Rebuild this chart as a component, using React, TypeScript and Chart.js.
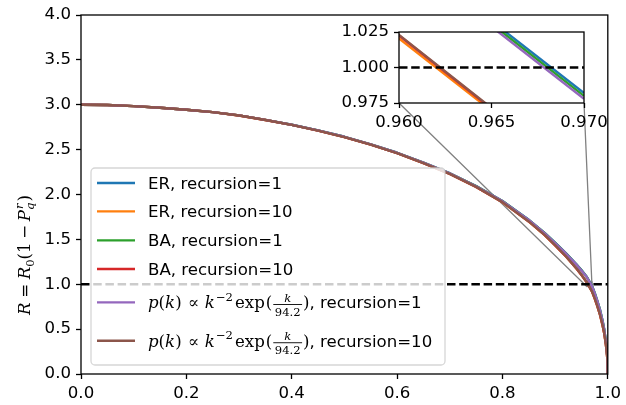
import React, { useEffect, useRef } from "react";
import { Chart, registerables } from "chart.js";

Chart.register(...registerables);

// ---------------- data ----------------
const X = [0, 0.05, 0.1, 0.15, 0.2, 0.25, 0.3, 0.35, 0.4, 0.45, 0.5, 0.55, 0.6, 0.65, 0.7, 0.75, 0.8, 0.85, 0.88, 0.9, 0.92, 0.94, 0.95, 0.96, 0.965, 0.97, 0.975, 0.98, 0.985, 0.99, 0.993, 0.996, 0.998, 0.999, 0.9997, 1.0];

const ER_R1 = [3.000, 2.997, 2.985, 2.967, 2.945, 2.918, 2.881, 2.831, 2.777, 2.714, 2.643, 2.559, 2.465, 2.356, 2.237, 2.094, 1.928, 1.718, 1.573, 1.463, 1.350, 1.225, 1.158, 1.0838, 1.0328, 0.982, 0.906, 0.818, 0.720, 0.595, 0.505, 0.382, 0.274, 0.197, 0.109, 0.000];
const ER_R10 = [3.000, 2.997, 2.985, 2.967, 2.945, 2.918, 2.880, 2.830, 2.775, 2.712, 2.640, 2.555, 2.460, 2.350, 2.229, 2.084, 1.913, 1.698, 1.548, 1.433, 1.313, 1.178, 1.103, 1.0205, 0.9695, 0.918, 0.843, 0.758, 0.663, 0.543, 0.458, 0.343, 0.243, 0.173, 0.094, 0.000];
const BA_R1 = [3.000, 2.997, 2.985, 2.967, 2.945, 2.918, 2.881, 2.831, 2.777, 2.714, 2.643, 2.559, 2.465, 2.356, 2.236, 2.093, 1.927, 1.717, 1.572, 1.461, 1.348, 1.223, 1.156, 1.0818, 1.0308, 0.980, 0.904, 0.816, 0.718, 0.593, 0.503, 0.380, 0.272, 0.195, 0.108, 0.000];
const BA_R10 = [3.000, 2.997, 2.985, 2.967, 2.945, 2.918, 2.880, 2.830, 2.775, 2.712, 2.640, 2.555, 2.460, 2.350, 2.230, 2.085, 1.915, 1.700, 1.550, 1.434, 1.314, 1.179, 1.104, 1.0225, 0.971, 0.9195, 0.844, 0.759, 0.664, 0.544, 0.459, 0.344, 0.244, 0.174, 0.095, 0.000];
const PK_R1 = [3.000, 2.997, 2.985, 2.967, 2.945, 2.918, 2.881, 2.831, 2.777, 2.714, 2.643, 2.559, 2.465, 2.356, 2.236, 2.092, 1.926, 1.716, 1.570, 1.459, 1.346, 1.221, 1.154, 1.0798, 1.0288, 0.978, 0.902, 0.814, 0.716, 0.591, 0.501, 0.378, 0.270, 0.193, 0.107, 0.000];
const PK_R10 = [3.000, 2.997, 2.985, 2.967, 2.945, 2.918, 2.880, 2.830, 2.775, 2.712, 2.640, 2.555, 2.460, 2.350, 2.230, 2.085, 1.915, 1.700, 1.550, 1.435, 1.315, 1.180, 1.105, 1.023, 0.9715, 0.920, 0.845, 0.760, 0.665, 0.545, 0.460, 0.345, 0.245, 0.175, 0.095, 0.000];

const SERIES_NAMES = ["ER, recursion=1", "ER, recursion=10", "BA, recursion=1", "BA, recursion=10", "pk, recursion=1", "pk, recursion=10"];
const SERIES_VALUES = [ER_R1, ER_R10, BA_R1, BA_R10, PK_R1, PK_R10];
const RECURSION = ["1", "10", "1", "10", "1", "10"];

const THRESHOLD = 1.0;
const MAIN_X_TICKS = [0, 0.2, 0.4, 0.6, 0.8, 1.0];
const MAIN_Y_TICKS = [0, 0.5, 1.0, 1.5, 2.0, 2.5, 3.0, 3.5, 4.0];
const INSET_X_TICKS = [0.96, 0.965, 0.97];
const INSET_Y_TICKS = [0.975, 1.0, 1.025];
const MAIN_X_RANGE = [0, 1];
const MAIN_Y_RANGE = [0, 4];
const INSET_X_RANGE = [0.96, 0.97];
const INSET_Y_RANGE = [0.975, 1.025];

// ---------------- styles / layout ----------------
const COLORS = ["#1f77b4", "#ff7f0e", "#2ca02c", "#d62728", "#9467bd", "#8c564b"];
const W = 626, H = 405;
const MAIN_AREA = { left: 81, top: 15, right: 611, bottom: 374 };
const INSET_AREA = { left: 399, top: 32, right: 584, bottom: 103 };
const SANS = '"DejaVu Sans", sans-serif';
const SERIF = '"DejaVu Serif", serif';
const TICK_FONT = { family: SANS, size: 16.6 };
const LW = 2.4;

type Seg = { t?: string; f: string; dy?: number; pad?: number; frac?: [string, string]; f2?: string; sub?: string; sup?: string };

function segWidth(ctx: CanvasRenderingContext2D, s: Seg): number {
  ctx.font = s.f;
  if (s.frac) {
    const a = ctx.measureText(s.frac[0]).width;
    ctx.font = s.f2 || s.f;
    const b = ctx.measureText(s.frac[1]).width;
    return Math.max(a, b) + 5;
  }
  if (s.sub !== undefined) {
    return Math.max(ctx.measureText(s.sub).width, ctx.measureText(s.sup || "").width) + 1;
  }
  return ctx.measureText(s.t || "").width + 2 * (s.pad || 0);
}

function runWidth(ctx: CanvasRenderingContext2D, segs: Seg[]) {
  return segs.reduce((a, s) => a + segWidth(ctx, s), 0);
}

function drawRun(ctx: CanvasRenderingContext2D, segs: Seg[], x: number, y: number) {
  ctx.textAlign = "left";
  ctx.textBaseline = "alphabetic";
  for (const s of segs) {
    const w = segWidth(ctx, s);
    ctx.font = s.f;
    if (s.frac) {
      const nw = ctx.measureText(s.frac[0]).width;
      ctx.fillText(s.frac[0], x + (w - nw) / 2, y - 6.5);
      ctx.font = s.f2 || s.f;
      const dw = ctx.measureText(s.frac[1]).width;
      ctx.fillText(s.frac[1], x + (w - dw) / 2, y + 7.5);
      ctx.fillRect(x + 1, y - 4.4, w - 2, 0.9);
    } else if (s.sub !== undefined) {
      ctx.fillText(s.sub, x, y + 4);
      ctx.fillText(s.sup || "", x + 1, y - 7);
    } else {
      ctx.fillText(s.t || "", x + (s.pad || 0), y + (s.dy || 0));
    }
    x += w;
  }
  return x;
}

const M = 16.6, S = 11.6;
const it = (n: number) => `italic ${n}px ${SERIF}`;
const rm = (n: number) => `${n}px ${SERIF}`;

function pkSegs(rec: string): Seg[] {
  return [
    { t: "p", f: it(M) }, { t: "(", f: rm(M) }, { t: "k", f: it(M) }, { t: ")", f: rm(M) },
    { t: "\u221d", f: rm(M), pad: 6 },
    { t: "k", f: it(M) }, { t: "\u22122", f: rm(S), dy: -7.5, pad: 1 },
    { t: "exp", f: rm(M), pad: 1 }, { t: "(", f: rm(M) },
    { frac: ["k", "94.2"], f: it(S), f2: rm(S) },
    { t: ")", f: rm(M) },
    { t: ", recursion=" + rec, f: `16.6px ${SANS}` },
  ];
}

const YL = 16.6, YS = 11.6;
const Y_LABEL: Seg[] = [
  { t: "R", f: it(YL) }, { t: "=", f: rm(YL), pad: 4.6 }, { t: "R", f: it(YL) },
  { t: "0", f: rm(YS), dy: 4 }, { t: "(1", f: rm(YL) }, { t: "\u2212", f: rm(YL), pad: 3.7 },
  { t: "P", f: it(YL) }, { sub: "q", sup: "r", f: it(YS) }, { t: ")", f: rm(YL) },
];
const Y_LABEL_POS = { x: 30, y: 255 };

function frame(chart: any) {
  const { ctx, chartArea: a } = chart;
  ctx.save();
  ctx.strokeStyle = "#000";
  ctx.lineWidth = 1.3;
  ctx.strokeRect(a.left, a.top, a.right - a.left, a.bottom - a.top);
  ctx.restore();
}

const mainDecor = {
  id: "mainDecor",
  beforeDatasetsDraw(chart: any) {
    const { ctx, scales } = chart;
    const x0 = scales.x.getPixelForValue(INSET_X_RANGE[0]);
    const x1 = scales.x.getPixelForValue(INSET_X_RANGE[1]);
    const y0 = scales.y.getPixelForValue(INSET_Y_RANGE[0]);
    const y1 = scales.y.getPixelForValue(INSET_Y_RANGE[1]);
    ctx.save();
    ctx.strokeStyle = "#808080";
    ctx.lineWidth = 1.3;
    ctx.strokeRect(x0, y1, x1 - x0, y0 - y1);
    ctx.beginPath();
    ctx.moveTo(INSET_AREA.left, INSET_AREA.bottom);
    ctx.lineTo(x0, y0);
    ctx.moveTo(INSET_AREA.right, INSET_AREA.bottom);
    ctx.lineTo(x1, y0);
    ctx.stroke();
    ctx.restore();
  },
  afterDatasetsDraw(chart: any) {
    frame(chart);
  },
  afterDraw(chart: any) {
    const { ctx, chartArea: a } = chart;
    // legend
    const L = a.left + 10, B = a.bottom - 9, LWID = 354, LH = 197, T = B - LH;
    ctx.save();
    ctx.beginPath();
    (ctx as any).roundRect(L, T, LWID, LH, 4);
    ctx.fillStyle = "rgba(255,255,255,0.8)";
    ctx.fill();
    ctx.strokeStyle = "rgba(204,204,204,0.8)";
    ctx.lineWidth = 1.3;
    ctx.stroke();
    const rowY = [15, 43.4, 72.4, 101, 134.4, 172.7];
    for (let i = 0; i < 6; i++) {
      const yy = T + rowY[i];
      ctx.strokeStyle = COLORS[i];
      ctx.lineWidth = LW;
      ctx.beginPath();
      ctx.moveTo(L + 6, yy);
      ctx.lineTo(L + 44, yy);
      ctx.stroke();
      ctx.fillStyle = "#000";
      if (i < 4) {
        ctx.font = `16.6px ${SANS}`;
        ctx.textAlign = "left";
        ctx.textBaseline = "alphabetic";
        ctx.fillText(SERIES_NAMES[i], L + 57, yy + 6);
      } else {
        drawRun(ctx, pkSegs(RECURSION[i]), L + 57, yy + 6);
      }
    }
    // y label
    ctx.fillStyle = "#000";
    ctx.translate(Y_LABEL_POS.x, Y_LABEL_POS.y);
    ctx.rotate(-Math.PI / 2);
    const w = runWidth(ctx, Y_LABEL);
    drawRun(ctx, Y_LABEL, -w / 2, 0);
    ctx.restore();
  },
};

const insetDecor = {
  id: "insetDecor",
  beforeDraw(chart: any) {
    const { ctx, chartArea: a } = chart;
    ctx.save();
    ctx.fillStyle = "#fff";
    ctx.fillRect(a.left, a.top, a.right - a.left, a.bottom - a.top);
    ctx.restore();
  },
  afterDatasetsDraw(chart: any) {
    frame(chart);
  },
};

function seriesDatasets() {
  return SERIES_VALUES.map((vals, i) => ({
    label: SERIES_NAMES[i],
    data: X.map((x, j) => ({ x, y: vals[j] })),
    borderColor: COLORS[i],
    borderWidth: LW,
    pointRadius: 0,
    fill: false,
    tension: 0,
    clip: 0,
    order: 10 - i,
    borderJoinStyle: "round" as const,
  }));
}

function thresholdDataset(range: number[]) {
  return {
    label: "threshold",
    data: [{ x: range[0], y: THRESHOLD }, { x: range[1], y: THRESHOLD }],
    borderColor: "#000",
    borderWidth: LW,
    borderDash: [8.5, 3.7],
    pointRadius: 0,
    fill: false,
    clip: 0,
    order: 0,
  };
}

function axis(range: number[], ticks: number[], digits: number, size: number, horizontal: boolean) {
  return {
    type: "linear" as const,
    min: range[0],
    max: range[1],
    afterBuildTicks: (s: any) => {
      s.ticks = ticks.map((v) => ({ value: v }));
    },
    afterFit: (s: any) => {
      if (horizontal) s.height = size;
      else s.width = size;
    },
    ticks: {
      autoSkip: false,
      maxRotation: 0,
      padding: 5,
      color: "#000",
      font: TICK_FONT,
      callback: (v: any) => Number(v).toFixed(digits),
    },
    grid: { drawOnChartArea: false, drawTicks: true, tickLength: 5, tickColor: "#000", tickWidth: 1.3 },
    border: { display: false },
  };
}

export default function App() {
  const mainRef = useRef<HTMLCanvasElement>(null);
  const insetRef = useRef<HTMLCanvasElement>(null);

  useEffect(() => {
    const main = new Chart(mainRef.current as HTMLCanvasElement, {
      type: "line",
      data: { datasets: [...seriesDatasets(), thresholdDataset(MAIN_X_RANGE)] as any },
      options: {
        responsive: false,
        animation: false,
        devicePixelRatio: 1,
        layout: { padding: { left: 0, top: MAIN_AREA.top, right: W - MAIN_AREA.right, bottom: 0 } },
        plugins: { legend: { display: false }, tooltip: { enabled: false } },
        scales: {
          x: axis(MAIN_X_RANGE, MAIN_X_TICKS, 1, H - MAIN_AREA.bottom, true),
          y: axis(MAIN_Y_RANGE, MAIN_Y_TICKS, 1, MAIN_AREA.left, false),
        },
      } as any,
      plugins: [mainDecor],
    });
    const yw = 60, xh = 30;
    const inset = new Chart(insetRef.current as HTMLCanvasElement, {
      type: "line",
      data: { datasets: [...seriesDatasets(), thresholdDataset(INSET_X_RANGE)] as any },
      options: {
        responsive: false,
        animation: false,
        devicePixelRatio: 1,
        layout: {
          padding: {
            left: INSET_AREA.left - yw,
            top: INSET_AREA.top,
            right: W - INSET_AREA.right,
            bottom: H - INSET_AREA.bottom - xh,
          },
        },
        plugins: { legend: { display: false }, tooltip: { enabled: false } },
        scales: {
          x: axis(INSET_X_RANGE, INSET_X_TICKS, 3, xh, true),
          y: axis(INSET_Y_RANGE, INSET_Y_TICKS, 3, yw, false),
        },
      } as any,
      plugins: [insetDecor],
    });
    return () => {
      main.destroy();
      inset.destroy();
    };
  }, []);

  return (
    <div style={{ position: "fixed", left: 0, top: 0, width: W, height: H, background: "#fff" }}>
      <canvas ref={mainRef} width={W} height={H} style={{ position: "absolute", left: 0, top: 0 }} />
      <canvas ref={insetRef} width={W} height={H} style={{ position: "absolute", left: 0, top: 0 }} />
    </div>
  );
}
